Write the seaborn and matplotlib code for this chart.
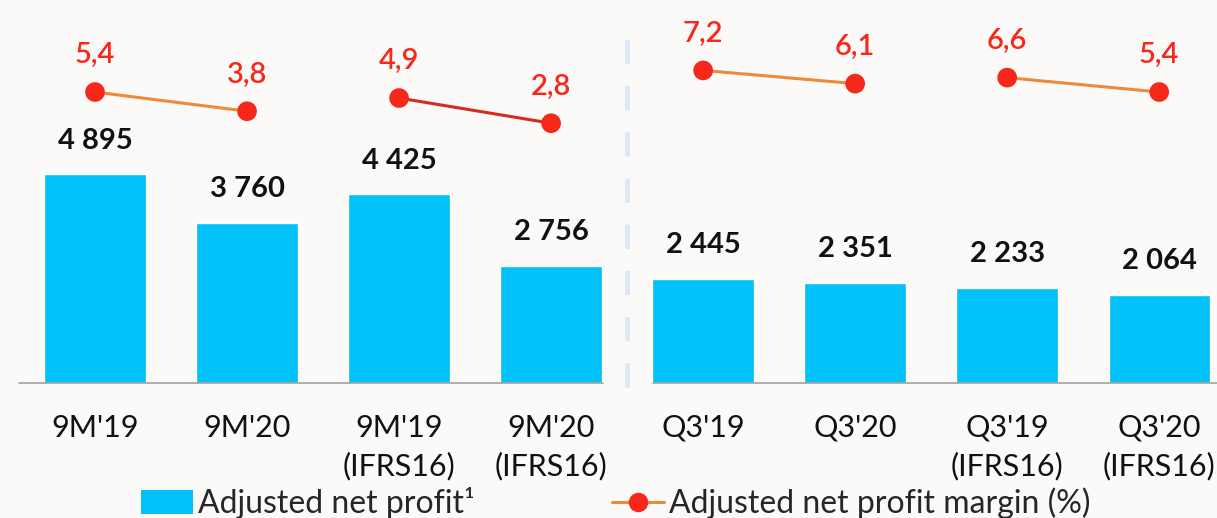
import matplotlib
matplotlib.use("Agg")
import matplotlib.pyplot as plt
import seaborn as sns
import pandas as pd
from matplotlib.lines import Line2D
from matplotlib.patches import Patch

# Chart data
categories = ["9M'19", "9M'20", "9M'19\n(IFRS16)", "9M'20\n(IFRS16)",
              "Q3'19", "Q3'20", "Q3'19\n(IFRS16)", "Q3'20\n(IFRS16)"]
net_profit = [4895, 3760, 4425, 2756, 2445, 2351, 2233, 2064]
profit_labels = ["4 895", "3 760", "4 425", "2 756", "2 445", "2 351", "2 233", "2 064"]
margin = [5.4, 3.8, 4.9, 2.8, 7.2, 6.1, 6.6, 5.4]
margin_labels = ["5,4", "3,8", "4,9", "2,8", "7,2", "6,1", "6,6", "5,4"]
pair_line_colors = ["#F0883A", "#D42B1E", "#F0883A", "#F0883A"]
legend_labels = ["Adjusted net profit\u00b9", "Adjusted net profit margin (%)"]

BAR = "#00C2F9"
DOT = "#F5281A"
BG = "#FCFAF9"

sns.set_theme(style="white")
plt.rcParams["font.family"] = ["Lato", "DejaVu Sans"]

fig = plt.figure(figsize=(12.17, 5.18), dpi=100, facecolor=BG)
ax = fig.add_axes([0, 1 - 383 / 518, 1, 383 / 518])
ax.set_facecolor(BG)

df = pd.DataFrame({"cat": categories, "profit": net_profit})
sns.barplot(data=df, x="cat", y="profit", color=BAR, width=0.667,
            saturation=1, ax=ax, order=categories)
ax.set_xlim(-0.625, 7.38)
ax.set_ylim(0, 8990)

for i, (v, lab) in enumerate(zip(net_profit, profit_labels)):
    ax.annotate(lab, (i, v), xytext=(0, 15), textcoords="offset points",
                ha="center", va="bottom", fontsize=21, fontweight="bold",
                color="#111111")

# baseline segments and dashed separator
ax.plot([-0.5, 3.34], [0, 0], color="#A0A0A0", lw=1.2, clip_on=False)
ax.plot([3.67, 7.6], [0, 0], color="#A0A0A0", lw=1.2, clip_on=False)
ax.axvline(3.5, ymin=-0.01, ymax=0.91, color="#DCE8F6", lw=3.5,
           dashes=(5, 4.5), clip_on=False)

for s in ax.spines.values():
    s.set_visible(False)
ax.set_yticks([])
ax.set_xlabel("")
ax.set_ylabel("")
ax.tick_params(axis="x", length=0, pad=22, labelsize=22, colors="#111111")
for t in ax.get_xticklabels():
    t.set_linespacing(1.42)
    t.set_verticalalignment("top")

# margin line on secondary axis
ax2 = ax.twinx()
ax2.set_ylim(-18.85, 13.07)
ax2.set_yticks([])
for s in ax2.spines.values():
    s.set_visible(False)
for p in range(4):
    idx = [2 * p, 2 * p + 1]
    pdf = pd.DataFrame({"x": idx, "m": [margin[j] for j in idx]})
    sns.lineplot(data=pdf, x="x", y="m", color=pair_line_colors[p], lw=2.2,
                 ax=ax2, legend=False)
    sns.scatterplot(data=pdf, x="x", y="m", color=DOT, s=200,
                    edgecolor="none", ax=ax2, legend=False, zorder=5)
for i, (m, lab) in enumerate(zip(margin, margin_labels)):
    ax2.annotate(lab, (i, m), xytext=(0, 17), textcoords="offset points",
                 ha="center", va="bottom", fontsize=21, fontweight="semibold",
                 color=DOT)
ax2.set_xlim(-0.625, 7.38)
ax2.set_xlabel("")
ax2.set_ylabel("")

handles = [Patch(facecolor=BAR, edgecolor="none"),
           Line2D([0], [0], color="#F0883A", lw=2.2, marker="o",
                  markersize=13, markerfacecolor=DOT, markeredgecolor=DOT)]
fig.legend(handles, legend_labels, loc="center", bbox_to_anchor=(0.506, 0.029),
           ncol=2, frameon=False, fontsize=23, handlelength=1.63,
           handleheight=0.75, handletextpad=0.16, columnspacing=4.3,
           borderaxespad=0, borderpad=0)

fig.savefig("out.png", dpi=100, facecolor=BG)
